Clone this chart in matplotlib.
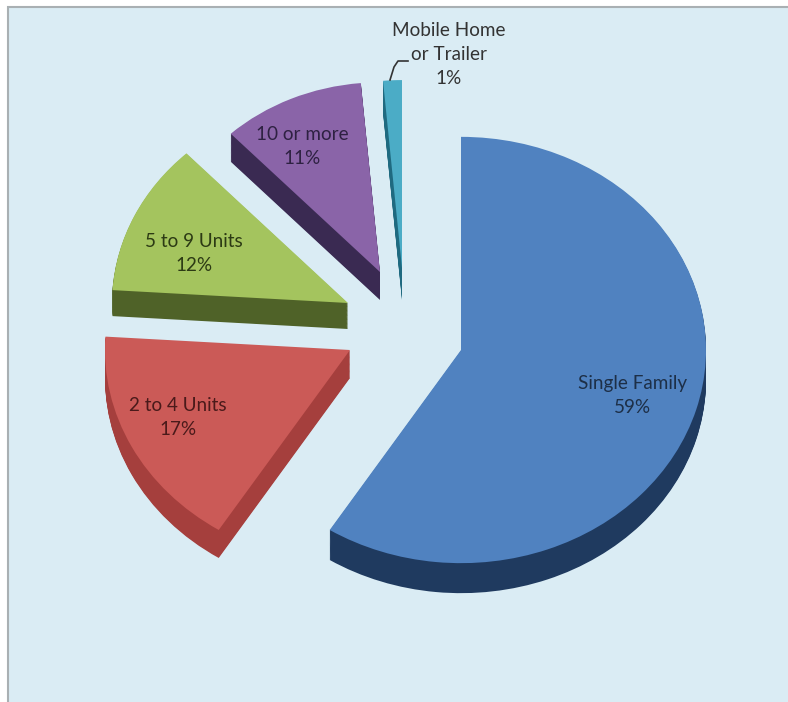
# Housing units by structure type - exploded 3D look pie
import matplotlib
matplotlib.use('Agg')
import matplotlib.pyplot as plt
from matplotlib.patches import Rectangle

# data
categories = ['Single Family', '2 to 4 Units', '5 to 9 Units', '10 or more', 'Mobile Home\nor Trailer']
shares = [59, 17, 12, 10.6, 1.4]

# styles and layout (pixels of the picture)
top_colors = ['#5082c0', '#cb5a57', '#a4c45e', '#8a64a8', '#4bacc6']
side_colors = ['#1f3a5f', '#a53f3d', '#4f6228', '#3a2a52', '#1f6a80']
text_colors = ['#1d2f47', '#4a1a1a', '#2c3a14', '#2e2142', '#333333']
tips = [(461, 350), (350, 350), (348, 303), (380, 272), (402, 268)]
radii = [245, 245, 236, 218, 216]
depths = [30, 28, 26, 28, 32]
label_pos = [(633, 396), (178, 418), (194, 254), (302, 147), (449, 54)]
SQUASH = 0.87
LAYERS = 32
W, H = 788, 702


def py(y):
    # picture y (down) to data y (up, stretched so the pie comes out squashed)
    return (H - y) / SQUASH


def draw_pie(colors, step=0):
    wedges, _ = ax.pie(shares, colors=colors, startangle=90, counterclock=False)
    for w, tip, r, d in zip(wedges, tips, radii, depths):
        w.set_center((tip[0], py(tip[1] + d * step / LAYERS)))
        w.set_radius(r)
        w.set_linewidth(0)
        w.set_zorder(3)


fig = plt.figure(figsize=(W / 100, H / 100), dpi=100, facecolor='white')
ax = fig.add_axes([0, 0, 1, 1])

# extrusion first, top faces over it
for step in range(LAYERS, 0, -1):
    draw_pie(side_colors, step)
draw_pie(top_colors)

ax.set_aspect('auto')
ax.set_xlim(0, W)
ax.set_ylim(0, H / SQUASH)
ax.set_frame_on(False)

# chart area
ax.add_patch(Rectangle((8, py(H + 5)), W, py(7) - py(H + 5), facecolor='#daecf4',
                       edgecolor='#a9b0b3', linewidth=1.5, zorder=1))

for name, share, (x, y), c in zip(categories, shares, label_pos, text_colors):
    ax.text(x, py(y), f'{name}\n{share:.0f}%', ha='center', va='center', color=c,
            fontsize=13.6, family='Lato', linespacing=1.5, zorder=5)

# leader line for the small slice
ax.plot([390, 394, 398, 408], [py(80), py(67), py(61), py(61)], color='#333333', lw=1.2, zorder=5)

fig.savefig('out.png', dpi=100)
